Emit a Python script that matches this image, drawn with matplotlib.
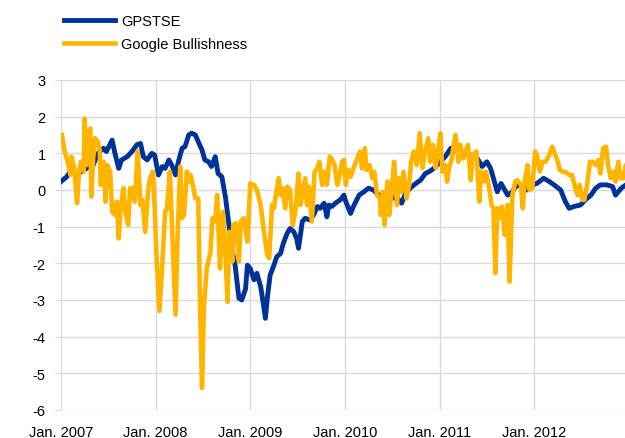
import matplotlib
matplotlib.use('Agg')
import matplotlib.pyplot as plt

# GPSTSE, time in decimal years
gp_t = [2007.00, 2007.06, 2007.11, 2007.17, 2007.22, 2007.27, 2007.34, 2007.39, 2007.45, 2007.48,
        2007.54, 2007.57, 2007.61, 2007.64, 2007.70, 2007.75, 2007.80, 2007.84, 2007.87, 2007.91,
        2007.96, 2007.99, 2008.03, 2008.07, 2008.10, 2008.14, 2008.17, 2008.21, 2008.24, 2008.28,
        2008.31, 2008.35, 2008.38, 2008.42, 2008.45, 2008.49, 2008.52, 2008.56, 2008.59, 2008.63,
        2008.66, 2008.70, 2008.74, 2008.77, 2008.81, 2008.84, 2008.88, 2008.91, 2008.95, 2008.97,
        2009.00, 2009.04, 2009.07, 2009.11, 2009.14, 2009.16, 2009.18, 2009.21, 2009.25, 2009.28,
        2009.32, 2009.35, 2009.39, 2009.42, 2009.46, 2009.49, 2009.51, 2009.55, 2009.58, 2009.63,
        2009.67, 2009.71, 2009.74, 2009.78, 2009.81, 2009.83, 2009.86, 2009.90, 2009.95, 2009.99,
        2010.01, 2010.06, 2010.09, 2010.15, 2010.20, 2010.25, 2010.30, 2010.34, 2010.38, 2010.43,
        2010.48, 2010.53, 2010.57, 2010.60, 2010.64, 2010.69, 2010.75, 2010.80, 2010.85, 2010.89,
        2010.94, 2011.01, 2011.06, 2011.12, 2011.19, 2011.26, 2011.33, 2011.40, 2011.45, 2011.50,
        2011.54, 2011.57, 2011.61, 2011.65, 2011.72, 2011.77, 2011.80, 2011.86, 2011.93, 2011.98,
        2012.03, 2012.10, 2012.16, 2012.21, 2012.28, 2012.33, 2012.37, 2012.42, 2012.49, 2012.54,
        2012.60, 2012.65, 2012.70, 2012.77, 2012.83, 2012.86, 2012.92, 2012.97]
gp_v = [0.23, 0.36, 0.55, 0.45, 0.50, 0.59, 0.68, 1.00, 1.14, 1.05,
        1.36, 1.00, 0.59, 0.82, 0.91, 1.05, 1.23, 1.27, 0.91, 0.82,
        1.00, 0.95, 0.41, 0.64, 0.59, 0.82, 0.68, 0.41, 0.77, 1.14,
        1.18, 1.50, 1.55, 1.50, 1.32, 1.09, 0.82, 0.77, 0.64, 0.91,
        0.45, 0.36, -0.23, -0.86, -1.68, -2.05, -2.95, -3.00, -2.70, -2.05,
        -2.14, -2.45, -2.27, -2.64, -3.14, -3.50, -2.95, -2.32, -2.05, -1.82,
        -1.73, -1.45, -1.18, -1.05, -1.14, -1.32, -1.59, -0.86, -0.77, -0.82,
        -0.68, -0.45, -0.50, -0.36, -0.73, -0.41, -0.45, -0.36, -0.27, -0.14,
        -0.32, -0.64, -0.45, -0.14, -0.05, 0.05, 0.00, -0.09, -0.23, -0.18,
        -0.14, -0.23, -0.27, -0.36, -0.09, 0.05, 0.18, 0.27, 0.45, 0.50,
        0.59, 0.77, 0.91, 1.14, 1.05, 1.00, 0.95, 0.86, 0.64, 0.77,
        0.59, 0.32, -0.05, 0.18, -0.14, -0.05, 0.09, 0.14, 0.00, 0.14,
        0.18, 0.32, 0.23, 0.14, 0.00, -0.32, -0.50, -0.45, -0.41, -0.27,
        -0.14, 0.05, 0.14, 0.14, 0.09, -0.14, 0.05, 0.14]

# Google Bullishness
gb_t = [2007.01, 2007.04, 2007.07, 2007.10, 2007.11, 2007.14, 2007.17, 2007.19, 2007.21, 2007.24,
        2007.25, 2007.27, 2007.29, 2007.31, 2007.32, 2007.34, 2007.36, 2007.39, 2007.41, 2007.42,
        2007.45, 2007.47, 2007.49, 2007.52, 2007.54, 2007.57, 2007.59, 2007.61, 2007.63, 2007.66,
        2007.68, 2007.71, 2007.73, 2007.75, 2007.78, 2007.81, 2007.84, 2007.86, 2007.89, 2007.92,
        2007.94, 2007.97, 2007.99, 2008.01, 2008.04, 2008.08, 2008.10, 2008.12, 2008.15, 2008.17,
        2008.21, 2008.23, 2008.26, 2008.28, 2008.30, 2008.33, 2008.36, 2008.37, 2008.40, 2008.42,
        2008.45, 2008.47, 2008.49, 2008.51, 2008.54, 2008.58, 2008.60, 2008.63, 2008.65, 2008.66,
        2008.68, 2008.71, 2008.74, 2008.76, 2008.78, 2008.81, 2008.82, 2008.85, 2008.88, 2008.90,
        2008.93, 2008.97, 2009.00, 2009.04, 2009.07, 2009.11, 2009.14, 2009.18, 2009.20, 2009.23,
        2009.25, 2009.27, 2009.30, 2009.32, 2009.34, 2009.37, 2009.39, 2009.42, 2009.45, 2009.48,
        2009.51, 2009.53, 2009.55, 2009.58, 2009.60, 2009.62, 2009.65, 2009.68, 2009.71, 2009.73,
        2009.76, 2009.78, 2009.81, 2009.84, 2009.86, 2009.89, 2009.92, 2009.94, 2009.97, 2009.99,
        2010.01, 2010.03, 2010.06, 2010.09, 2010.13, 2010.16, 2010.18, 2010.21, 2010.23, 2010.26,
        2010.29, 2010.31, 2010.34, 2010.37, 2010.38, 2010.40, 2010.42, 2010.45, 2010.47, 2010.50,
        2010.52, 2010.55, 2010.57, 2010.59, 2010.62, 2010.65, 2010.68, 2010.70, 2010.73, 2010.76,
        2010.79, 2010.82, 2010.84, 2010.88, 2010.90, 2010.93, 2010.96, 2010.98, 2011.01, 2011.03,
        2011.06, 2011.08, 2011.10, 2011.13, 2011.15, 2011.17, 2011.20, 2011.22, 2011.25, 2011.28,
        2011.30, 2011.33, 2011.35, 2011.39, 2011.42, 2011.44, 2011.47, 2011.49, 2011.52, 2011.55,
        2011.57, 2011.59, 2011.61, 2011.63, 2011.66, 2011.69, 2011.72, 2011.74, 2011.77, 2011.80,
        2011.82, 2011.86, 2011.88, 2011.90, 2011.93, 2011.95, 2011.98, 2012.01, 2012.03, 2012.06,
        2012.09, 2012.12, 2012.16, 2012.19, 2012.21, 2012.25, 2012.27, 2012.30, 2012.33, 2012.37,
        2012.40, 2012.44, 2012.46, 2012.48, 2012.51, 2012.53, 2012.56, 2012.59, 2012.62, 2012.65,
        2012.68, 2012.70, 2012.73, 2012.76, 2012.78, 2012.81, 2012.84, 2012.86, 2012.89, 2012.91,
        2012.94, 2012.97, 2012.99]
gb_v = [1.50, 1.05, 0.77, 0.41, 0.91, 0.59, -0.36, 0.50, 0.77, 0.50,
        1.95, 0.68, 1.50, 1.68, -0.18, 0.86, 1.41, 1.32, 1.05, 0.14,
        0.77, -0.32, 0.68, 0.50, -0.59, -0.68, -0.32, -1.32, -0.50, 0.05,
        -0.59, -0.95, 0.05, 0.05, -0.32, 1.05, -0.41, -0.27, -1.14, -0.05,
        0.32, 0.50, -0.50, -1.86, -3.30, -1.60, -0.59, -0.50, 0.50, -0.77,
        -3.40, -1.41, 0.64, -0.77, -0.68, 0.50, 0.23, 0.41, 0.05, -0.23,
        -0.23, -3.20, -5.40, -3.20, -2.14, -1.68, -0.77, -0.86, -0.14, -0.77,
        -2.14, -0.59, -1.86, -3.05, -1.14, -1.95, -0.95, -0.91, -1.95, -0.86,
        -0.77, -1.41, 0.18, 0.14, 0.00, -0.41, -1.05, -1.77, -1.86, -0.41,
        -0.50, -0.14, 0.32, -0.14, 0.05, -0.50, 0.09, 0.00, -0.95, -0.50,
        0.45, -0.41, -0.14, 0.32, -0.41, 0.09, -0.86, 0.50, 0.59, 0.77,
        0.14, 0.50, 0.14, 0.91, 0.86, 0.68, 0.14, 0.32, 0.77, 0.82,
        0.14, 0.55, 0.36, 0.59, 0.86, 1.05, 0.59, 1.14, 0.55, 0.68,
        0.32, 0.50, -0.14, -0.23, -0.68, -0.05, -0.95, 0.23, -0.68, 0.14,
        0.77, -0.41, 0.32, -0.05, 0.50, -0.23, 0.14, 0.77, 1.05, 0.68,
        1.55, 0.60, 0.95, 1.41, 0.77, 1.23, 0.60, 1.05, 1.55, 0.50,
        0.68, 0.23, 0.59, 0.86, 1.23, 1.50, 0.77, 1.23, 0.86, 1.09,
        1.23, 0.27, 0.95, 1.05, -0.32, 0.50, 0.23, 0.50, 0.14, -0.41,
        -0.50, -2.27, -0.50, -0.77, -0.45, -1.23, -0.41, -2.50, -0.14, 0.23,
        0.27, 0.14, -0.50, 0.23, 0.68, 0.00, 0.05, 1.05, 0.95, 0.50,
        0.77, 0.77, 0.95, 1.18, 1.05, 0.77, 0.55, 0.50, 0.50, 0.41,
        0.41, 0.00, -0.14, 0.14, -0.27, -0.27, 0.14, 0.77, 0.77, 0.68,
        0.82, 0.45, 1.14, 1.18, 0.68, 0.32, 0.50, 0.23, 0.77, 0.32,
        0.32, 0.68, 0.27]

years = [2007, 2008, 2009, 2010, 2011, 2012]
year_labels = ['Jan. 2007', 'Jan. 2008', 'Jan. 2009', 'Jan. 2010', 'Jan. 2011', 'Jan. 2012']
y_ticks = [3, 2, 1, 0, -1, -2, -3, -4, -5, -6]

plt.rcParams['font.family'] = ['Liberation Sans', 'DejaVu Sans']
plt.rcParams['axes.unicode_minus'] = False

fig = plt.figure(figsize=(6.25, 4.39), dpi=100)
ax = fig.add_axes([61 / 625, 1 - 411 / 439, 1 - 61 / 625, (411 - 81) / 439])

ax.plot(gp_t, gp_v, color='#003299', lw=3.5, solid_joinstyle='round', label='GPSTSE')
ax.plot(gb_t, gb_v, color='#ffb400', lw=3.3, solid_joinstyle='round', label='Google Bullishness')

ax.set_xlim(2007, 2012.96)
ax.set_ylim(-6, 3)
ax.set_xticks(years)
ax.set_xticklabels(year_labels)
ax.set_yticks(y_ticks)
ax.grid(True, color='#d9d9d9', lw=1)
ax.set_axisbelow(True)
for s in ax.spines.values():
    s.set_visible(False)
ax.tick_params(axis='y', length=4, color='#d9d9d9', labelsize=10.5, pad=7)
ax.tick_params(axis='x', length=0, labelsize=10.5, pad=11)

fig.legend(loc='upper left', bbox_to_anchor=(0.082, 0.996), frameon=False, fontsize=10.5,
           handlelength=3.5, handletextpad=0.4, labelspacing=0.6)

fig.savefig('out.png', dpi=100)
